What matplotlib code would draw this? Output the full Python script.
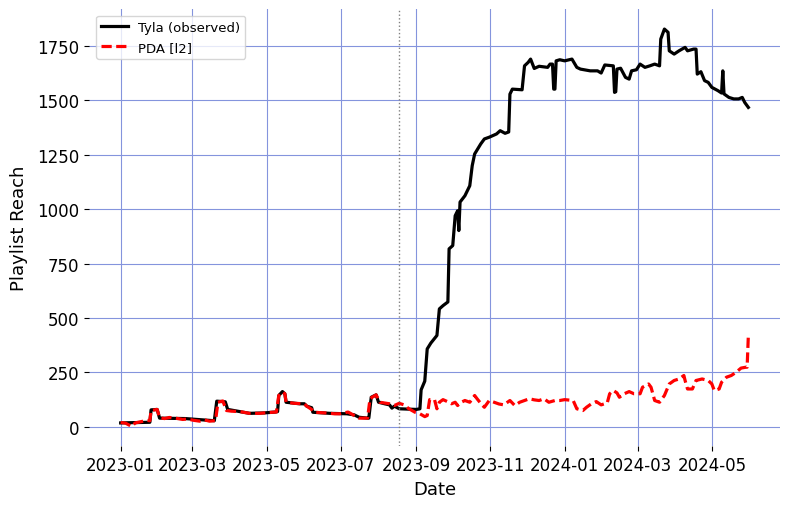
import pandas as pd
import matplotlib
matplotlib.use("Agg")
import matplotlib.pyplot as plt

# observed playlist reach
obs_dates = [
    "2023-01-01", "2023-01-25", "2023-01-26", "2023-01-31", "2023-02-02", "2023-02-23",
    "2023-03-19", "2023-03-21", "2023-03-28", "2023-03-30", "2023-04-09", "2023-04-17",
    "2023-04-29", "2023-05-08", "2023-05-10", "2023-05-11", "2023-05-14", "2023-05-16",
    "2023-05-17", "2023-05-28", "2023-06-01", "2023-06-03", "2023-06-07", "2023-06-08",
    "2023-06-22", "2023-07-06", "2023-07-12", "2023-07-16", "2023-07-23", "2023-07-24",
    "2023-07-26", "2023-07-30", "2023-08-01", "2023-08-06", "2023-08-10", "2023-08-12",
    "2023-08-14", "2023-08-18", "2023-09-01", "2023-09-04", "2023-09-05", "2023-09-08",
    "2023-09-10", "2023-09-13", "2023-09-18", "2023-09-20", "2023-09-23", "2023-09-27",
    "2023-09-28", "2023-10-01", "2023-10-03", "2023-10-05", "2023-10-06", "2023-10-07",
    "2023-10-11", "2023-10-15", "2023-10-17", "2023-10-19", "2023-10-24", "2023-10-27",
    "2023-10-31", "2023-11-06", "2023-11-09", "2023-11-13", "2023-11-16", "2023-11-17",
    "2023-11-19", "2023-11-27", "2023-11-29", "2023-12-02", "2023-12-04", "2023-12-07",
    "2023-12-11", "2023-12-18", "2023-12-20", "2023-12-22", "2023-12-23", "2023-12-24",
    "2023-12-25", "2023-12-28", "2024-01-01", "2024-01-07", "2024-01-11", "2024-01-14",
    "2024-01-22", "2024-01-28", "2024-01-31", "2024-02-03", "2024-02-10", "2024-02-11",
    "2024-02-12", "2024-02-13", "2024-02-16", "2024-02-20", "2024-02-23", "2024-02-25",
    "2024-02-29", "2024-03-03", "2024-03-07", "2024-03-11", "2024-03-15", "2024-03-19",
    "2024-03-20", "2024-03-23", "2024-03-26", "2024-03-27", "2024-03-31", "2024-04-04",
    "2024-04-09", "2024-04-11", "2024-04-16", "2024-04-18", "2024-04-19", "2024-04-22",
    "2024-04-25", "2024-04-28", "2024-05-01", "2024-05-06", "2024-05-09", "2024-05-10",
    "2024-05-11", "2024-05-15", "2024-05-19", "2024-05-23", "2024-05-26", "2024-05-28",
    "2024-05-31",
]
obs_reach = [
    18, 21, 78, 80, 40, 38,
    28, 118, 115, 80, 70, 62,
    64, 68, 70, 144, 162, 152,
    113, 106, 106, 95, 88, 67,
    62, 60, 55, 44, 40, 40,
    136, 147, 113, 106, 101, 86,
    95, 83, 80, 83, 170, 210,
    358, 385, 420, 542, 557, 574,
    818, 833, 970, 993, 902, 1033,
    1062, 1108, 1200, 1254, 1300, 1323,
    1331, 1346, 1361, 1349, 1355, 1529,
    1552, 1549, 1659, 1675, 1690, 1647,
    1657, 1652, 1667, 1667, 1552, 1552,
    1682, 1687, 1682, 1690, 1652, 1644,
    1636, 1636, 1626, 1663, 1659, 1537,
    1540, 1644, 1648, 1606, 1598, 1636,
    1641, 1667, 1652, 1659, 1667, 1659,
    1782, 1828, 1813, 1728, 1713, 1728,
    1744, 1728, 1736, 1736, 1621, 1632,
    1591, 1583, 1560, 1545, 1534, 1636,
    1530, 1514, 1507, 1507, 1514, 1491,
    1468,
]

# PDA [l2] estimate
pda_dates = [
    "2023-01-01", "2023-01-05", "2023-01-10", "2023-01-13", "2023-01-18", "2023-01-22",
    "2023-01-25", "2023-01-26", "2023-01-31", "2023-02-02", "2023-02-06", "2023-02-10",
    "2023-02-15", "2023-02-21", "2023-02-25", "2023-03-02", "2023-03-07", "2023-03-11",
    "2023-03-15", "2023-03-20", "2023-03-22", "2023-03-26", "2023-03-29", "2023-04-02",
    "2023-04-09", "2023-04-17", "2023-04-25", "2023-05-03", "2023-05-09", "2023-05-11",
    "2023-05-14", "2023-05-16", "2023-05-17", "2023-05-24", "2023-06-01", "2023-06-03",
    "2023-06-07", "2023-06-09", "2023-06-18", "2023-06-26", "2023-06-30", "2023-07-07",
    "2023-07-12", "2023-07-16", "2023-07-23", "2023-07-25", "2023-07-30", "2023-08-02",
    "2023-08-10", "2023-08-14", "2023-08-18", "2023-08-22", "2023-08-26", "2023-08-31",
    "2023-09-04", "2023-09-08", "2023-09-10", "2023-09-12", "2023-09-16", "2023-09-18",
    "2023-09-20", "2023-09-23", "2023-09-27", "2023-09-30", "2023-10-03", "2023-10-05",
    "2023-10-08", "2023-10-11", "2023-10-15", "2023-10-19", "2023-10-21", "2023-10-25",
    "2023-10-27", "2023-10-31", "2023-11-04", "2023-11-08", "2023-11-12", "2023-11-17",
    "2023-11-21", "2023-11-25", "2023-11-29", "2023-12-03", "2023-12-07", "2023-12-11",
    "2023-12-15", "2023-12-19", "2023-12-24", "2023-12-28", "2024-01-01", "2024-01-08",
    "2024-01-11", "2024-01-16", "2024-01-19", "2024-01-23", "2024-01-27", "2024-01-31",
    "2024-02-05", "2024-02-07", "2024-02-10", "2024-02-13", "2024-02-15", "2024-02-19",
    "2024-02-23", "2024-02-27", "2024-03-03", "2024-03-05", "2024-03-10", "2024-03-12",
    "2024-03-15", "2024-03-19", "2024-03-23", "2024-03-27", "2024-03-31", "2024-04-04",
    "2024-04-08", "2024-04-09", "2024-04-11", "2024-04-15", "2024-04-18", "2024-04-23",
    "2024-04-28", "2024-05-01", "2024-05-03", "2024-05-07", "2024-05-09", "2024-05-13",
    "2024-05-17", "2024-05-21", "2024-05-25", "2024-05-29", "2024-05-30", "2024-05-31",
]
pda_reach = [
    20, 17, 2, 18, 24, 30,
    28, 75, 80, 42, 38, 43,
    40, 34, 36, 30, 26, 32,
    26, 29, 113, 119, 75, 72,
    70, 62, 62, 66, 68, 144,
    160, 152, 113, 108, 106, 95,
    80, 67, 64, 60, 60, 68,
    52, 40, 40, 130, 147, 113,
    106, 98, 108, 101, 83, 67,
    60, 47, 52, 125, 125, 83,
    113, 125, 115, 106, 113, 98,
    113, 121, 113, 144, 129, 101,
    90, 121, 113, 105, 101, 121,
    98, 113, 121, 129, 124, 121,
    129, 113, 121, 121, 125, 121,
    83, 75, 90, 106, 116, 101,
    110, 152, 167, 156, 136, 152,
    162, 152, 152, 182, 197, 182,
    121, 113, 144, 197, 213, 220,
    236, 213, 174, 174, 213, 220,
    213, 197, 167, 174, 205, 228,
    236, 251, 270, 274, 274, 420,
]

event_date = "2023-08-18"

obs_x = pd.to_datetime(obs_dates)
pda_x = pd.to_datetime(pda_dates)

fig = plt.figure(figsize=(7.9, 5.1), dpi=100)
ax = fig.add_axes([0.113, 0.123, 0.874, 0.857])

ax.plot(obs_x, obs_reach, color="black", lw=2.3, label="Tyla (observed)")
ax.plot(pda_x, pda_reach, color="red", lw=2.3, ls="--", dashes=(3.2, 1.4),
        label="PDA [l2]")
ax.axvline(pd.Timestamp(event_date), color="grey", ls=":", lw=1)

ax.grid(True, color="#8494dd", lw=0.8)
ax.set_axisbelow(True)
for s in ax.spines.values():
    s.set_visible(False)

ax.tick_params(labelsize=12)
ax.set_xlabel("Date", fontsize=13)
ax.set_ylabel("Playlist Reach", fontsize=13, labelpad=7)
ax.legend(loc="upper left", fontsize=9.5)

fig.savefig("out.png", dpi=100)
